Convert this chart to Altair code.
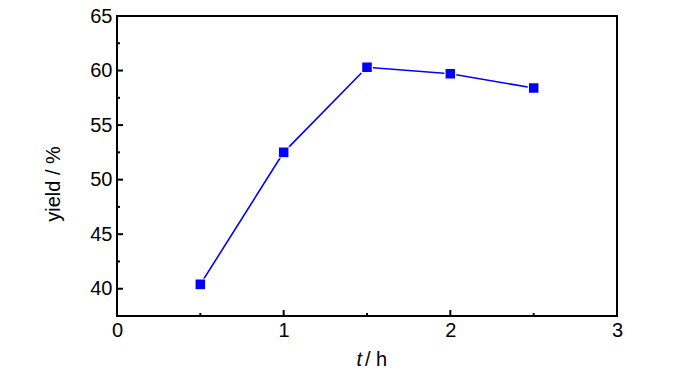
import altair as alt
import pandas as pd

# data
t_h = [0.5, 1.0, 1.5, 2.0, 2.5]
yield_pct = [40.4, 52.5, 60.3, 59.7, 58.4]

x_major = [1, 2]
x_minor = [0.5, 1.5, 2.5]
y_major = [40, 45, 50, 55, 60]
y_minor = [42.5, 47.5, 52.5, 57.5, 62.5]
x_labels = [0, 1, 2, 3]
y_labels = [40, 45, 50, 55, 60, 65]

FONT = "Liberation Sans Narrow, Liberation Sans, Arial"
FS = 20

df = pd.DataFrame({"t": t_h, "y": yield_pct})

xs = alt.Scale(domain=[0, 3], nice=False, zero=False)
ys = alt.Scale(domain=[37.5, 65], nice=False, zero=False)

xaxis = alt.Axis(values=x_labels, ticks=False, domain=False, grid=False,
                 labelFont=FONT, labelFontSize=FS, labelColor="black",
                 labelPadding=4, title=None, labelFlush=False, format="d")
yaxis = alt.Axis(values=y_labels, ticks=False, domain=False, grid=False,
                 labelFont=FONT, labelFontSize=FS, labelColor="black",
                 labelPadding=5, title=None, format="d")

line = alt.Chart(df).mark_line(color="#0000ff", strokeWidth=1.6).encode(
    x=alt.X("t:Q", scale=xs, axis=xaxis),
    y=alt.Y("y:Q", scale=ys, axis=yaxis),
)
pts = alt.Chart(df).mark_square(size=115, fill="#0000ff", stroke="white",
                                strokeWidth=1.2, opacity=1).encode(
    x=alt.X("t:Q", scale=xs),
    y=alt.Y("y:Q", scale=ys),
)

def vrule(vals, length):
    d = pd.DataFrame({"v": vals})
    return alt.Chart(d).mark_rule(color="black", strokeWidth=2).encode(
        x=alt.X("v:Q", scale=xs), y=alt.value(300), y2=alt.value(300 - length))

def hrule(vals, length):
    d = pd.DataFrame({"v": vals})
    return alt.Chart(d).mark_rule(color="black", strokeWidth=2).encode(
        y=alt.Y("v:Q", scale=ys), x=alt.value(0), x2=alt.value(length))

tx = alt.Chart(pd.DataFrame({"s": ["t"]})).mark_text(
    font=FONT, fontSize=FS, fontStyle="italic", align="right",
    baseline="alphabetic", color="black").encode(
    text="s:N", x=alt.value(245), y=alt.value(350))
th = alt.Chart(pd.DataFrame({"s": ["/ h"]})).mark_text(
    font=FONT, fontSize=FS, align="left",
    baseline="alphabetic", color="black").encode(
    text="s:N", x=alt.value(248), y=alt.value(350))
ty = alt.Chart(pd.DataFrame({"s": ["yield / %"]})).mark_text(
    font=FONT, fontSize=FS, align="center", angle=270,
    baseline="middle", color="black").encode(
    text="s:N", x=alt.value(-63), y=alt.value(168))

chart = alt.layer(
    line, pts,
    vrule(x_major, 6), vrule(x_minor, 3),
    hrule(y_major, 6), hrule(y_minor, 3),
    tx, th, ty,
).properties(
    width=500, height=300,
    autosize=alt.AutoSizeParams(type="none"),
    padding={"left": 109, "top": 8, "right": 75, "bottom": 54},
).configure(
    background="white",
    view=alt.ViewConfig(stroke="black", strokeWidth=2),
)

chart.save("out.html", embed_options={"renderer": "svg", "actions": False})
